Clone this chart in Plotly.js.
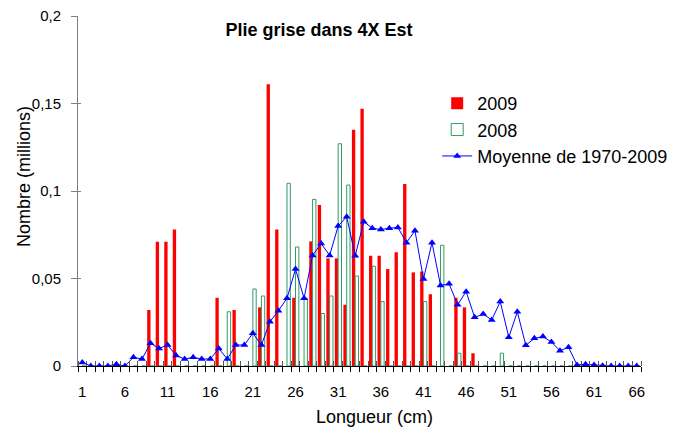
<!DOCTYPE html>
<html>
<head>
<meta charset="utf-8">
<script src="https://cdn.plot.ly/plotly-3.0.1.min.js"></script>
<style>
  body { margin: 0; background: #fff; }
  #plot { width: 675px; height: 427px; }
</style>
</head>
<body>
<div id="plot"></div>
<script>
// Longueur (cm) 1..66
let lengths = []
for (let i = 1; i <= 66; i++) lengths.push(i)

let xTickVals = [1, 6, 11, 16, 21, 26, 31, 36, 41, 46, 51, 56, 61, 66]

// 2009 (millions)
let values2009 = [
  0, 0, 0, 0, 0, 0, 0, 0, 0.032, 0.071,
  0.071, 0.078, 0, 0, 0, 0, 0.039, 0, 0.032, 0,
  0, 0.0335, 0.161, 0.078, 0, 0.039, 0, 0.0712, 0.092, 0.0615,
  0.0615, 0.035, 0.135, 0.147, 0.063, 0.063, 0.0554, 0.065, 0.104, 0.0535,
  0.054, 0.041, 0, 0, 0.039, 0.0335, 0.0073, 0, 0, 0,
  0, 0, 0, 0, 0, 0, 0, 0, 0, 0,
  0, 0, 0, 0, 0, 0
]

// 2008 (millions)
let values2008 = [
  0, 0, 0, 0, 0, 0, 0, 0, 0, 0,
  0, 0, 0, 0, 0, 0, 0, 0.031, 0, 0,
  0.044, 0.040, 0, 0, 0.1044, 0.068, 0.0387, 0.0952, 0.030, 0.040,
  0.127, 0.1034, 0.0514, 0, 0.057, 0.0368, 0, 0, 0, 0,
  0.0368, 0, 0.069, 0, 0.0073, 0, 0, 0, 0, 0.0073,
  0, 0, 0, 0, 0, 0, 0, 0, 0, 0,
  0, 0, 0, 0, 0, 0
]

// Moyenne de 1970-2009 (millions)
let meanValues = [
  0.002, 0, 0, 0, 0.001, 0, 0.005, 0.004, 0.013, 0.010,
  0.012, 0.006, 0.004, 0.005, 0.004, 0.004, 0.010, 0.004, 0.012, 0.012,
  0.0187, 0.012, 0.0253, 0.0316, 0.0387, 0.0554, 0.0387, 0.0632, 0.070, 0.0632,
  0.080, 0.0853, 0.063, 0.0825, 0.0787, 0.078, 0.0787, 0.0792, 0.0705, 0.0773,
  0.0497, 0.0705, 0.046, 0.047, 0.035, 0.0425, 0.0278, 0.0297, 0.0263, 0.0368,
  0.0164, 0.031, 0.0118, 0.0158, 0.0168, 0.0137, 0.0087, 0.0107, 0.0006, 0.001,
  0.0006, 0.0002, 0, 0, 0, 0
]

let font = "Liberation Sans, Arial, sans-serif"

let trace2009 = {
  x: lengths,
  y: values2009,
  name: "2009",
  type: "bar",
  marker: { color: "#ff0000", line: { width: 0 } }
}

let trace2008 = {
  x: lengths,
  y: values2008,
  name: "2008",
  type: "bar",
  marker: { color: "#ffffff", line: { color: "#339966", width: 1 } }
}

let traceMean = {
  x: lengths,
  y: meanValues,
  name: "Moyenne de 1970-2009",
  type: "scatter",
  mode: "lines+markers",
  xaxis: "x2",
  yaxis: "y2",
  line: { color: "#0000ff", width: 1 },
  marker: { symbol: "triangle-up", size: 7, color: "#0000ff" }
}

let data = [trace2009, trace2008, traceMean]

let layout = {
  width: 675,
  height: 427,
  margin: { l: 78, r: 34, t: 16, b: 61, autoexpand: false },
  paper_bgcolor: "#ffffff",
  plot_bgcolor: "#ffffff",
  font: { family: font, color: "#000000", size: 15 },
  separators: ", ",
  barmode: "group",
  bargap: 0.22,
  bargroupgap: 0,
  showlegend: true,
  title: {
    text: "<b>Plie grise dans 4X Est</b>",
    font: { family: font, size: 18 },
    xref: "container", yref: "container",
    x: 0.4726, xanchor: "center",
    y: 0.93, yanchor: "middle"
  },
  legend: {
    x: 0.638, y: 0.803, xanchor: "left", yanchor: "top",
    bgcolor: "rgba(0,0,0,0)",
    font: { family: font, size: 18 }
  },
  xaxis: {
    range: [0.5, 66.5],
    tickmode: "array",
    tickvals: xTickVals,
    ticks: "",
    ticklabelstandoff: 12,
    showline: true, linecolor: "#000000", linewidth: 1,
    showgrid: false, zeroline: false,
    minor: { tickmode: "linear", tick0: 0.5, dtick: 1, ticks: "outside", ticklen: 5, tickcolor: "#000000", showgrid: false }
  },
  xaxis2: {
    overlaying: "x", anchor: "y", side: "bottom",
    range: [0.5, 66.5],
    showline: false, showgrid: false, zeroline: false,
    showticklabels: false, ticks: "",
    minor: { tickmode: "linear", tick0: 0.5, dtick: 1, ticks: "inside", ticklen: 5, tickcolor: "#555555", showgrid: false }
  },
  yaxis: {
    range: [0, 0.2],
    dtick: 0.05,
    ticks: "outside", ticklen: 6, tickcolor: "#808080",
    ticklabelstandoff: 7,
    showline: true, linecolor: "#808080", linewidth: 1,
    showgrid: false, zeroline: false
  },
  yaxis2: {
    overlaying: "y", anchor: "x", side: "left",
    range: [0, 0.2],
    dtick: 0.05,
    ticks: "inside", ticklen: 3, tickcolor: "#808080",
    showticklabels: false, showline: false, showgrid: false, zeroline: false
  },
  annotations: [
    {
      text: "Longueur (cm)",
      xref: "paper", yref: "paper",
      x: 0.527, y: -0.146, xanchor: "center", yanchor: "middle",
      showarrow: false,
      font: { family: font, size: 18 }
    },
    {
      text: "Nombre (millions)",
      xref: "paper", yref: "paper",
      x: -0.096, y: 0.543, xanchor: "center", yanchor: "middle",
      textangle: -90,
      showarrow: false,
      font: { family: font, size: 18 }
    }
  ]
}

Plotly.newPlot("plot", data, layout, { staticPlot: true })
</script>
</body>
</html>
